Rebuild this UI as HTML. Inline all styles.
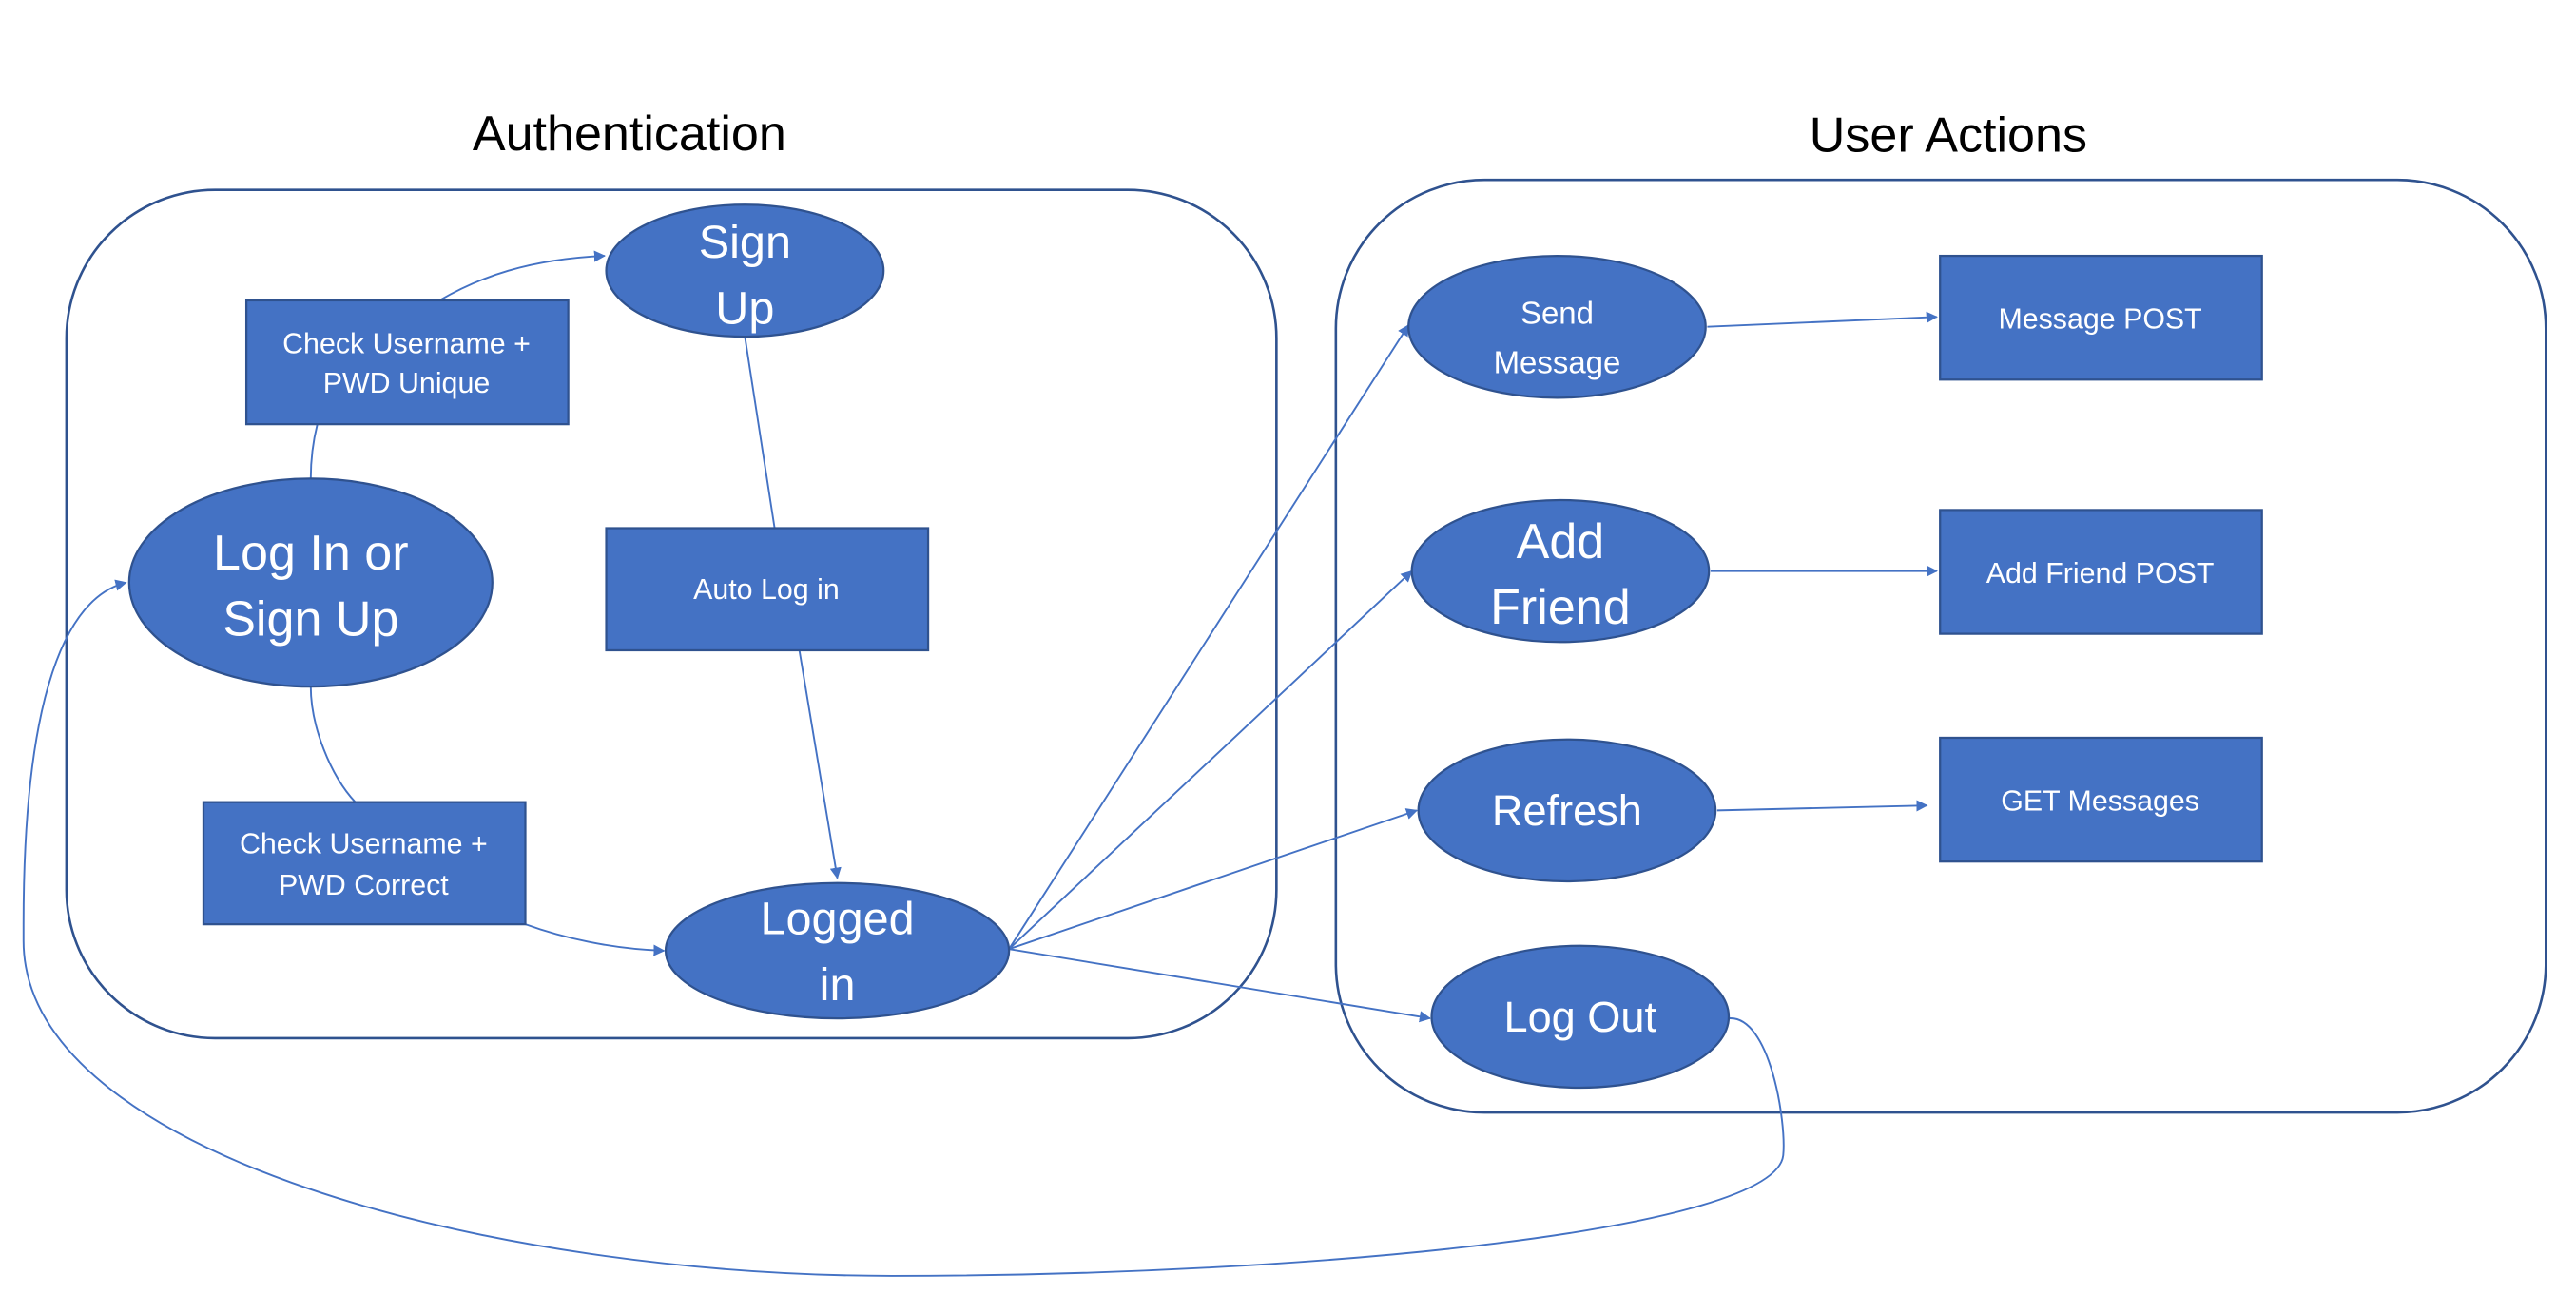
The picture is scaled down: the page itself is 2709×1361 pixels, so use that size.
<!DOCTYPE html>
<html><head><meta charset="utf-8"><style>
html,body{margin:0;padding:0;background:#fff;}
svg{display:block;}
text{font-family:"Liberation Sans",sans-serif;fill:#fff;text-anchor:middle;}
</style></head><body>
<svg width="2709" height="1361" viewBox="0 0 1560 784" xmlns="http://www.w3.org/2000/svg">
<defs>
<marker id="a" viewBox="0 0 10 10" refX="9" refY="5" markerWidth="7" markerHeight="7" orient="auto" markerUnits="userSpaceOnUse">
<path d="M0,0 L10,5 L0,10 z" fill="#4472C4"/></marker>
</defs>
<text x="381" y="91" style="fill:#000;font-size:30px">Authentication</text>
<text x="1180" y="92" style="fill:#000;font-size:30px">User Actions</text>
<rect x="40" y="115" width="733" height="514" rx="90" fill="none" stroke="#2F528F" stroke-width="1.5"/>
<rect x="809" y="109" width="733" height="565" rx="90" fill="none" stroke="#2F528F" stroke-width="1.5"/>
<g fill="none" stroke="#4472C4" stroke-width="1.1">
<path d="M188,290 C188,275 190,265 192,257"/>
<path d="M266,182 C290,168 320,157 366,155" marker-end="url(#a)"/>
<path d="M188,416 C188,440 200,470 215,486"/>
<path d="M318,560 C340,568 370,575 402,576" marker-end="url(#a)"/>
<path d="M451,204 L469,320"/>
<path d="M484,394 L507,532" marker-end="url(#a)"/>
<path d="M611,575 L853,197" marker-end="url(#a)"/>
<path d="M611,575 L855,346" marker-end="url(#a)"/>
<path d="M611,575 L858,491" marker-end="url(#a)"/>
<path d="M611,575 L866,617" marker-end="url(#a)"/>
<path d="M1034,198 L1173,192" marker-end="url(#a)"/>
<path d="M1036,346 L1173,346" marker-end="url(#a)"/>
<path d="M1040,491 L1167,488" marker-end="url(#a)"/>
<path d="M1047,617 C1072,615 1082,680 1080,700 C1075,745 800,773 540,773 C300,773 14,700 14,570 L14,560 C14,420 40,362 76,353" marker-end="url(#a)"/>
</g>
<g fill="#4472C4" stroke="#2F528F" stroke-width="1.3">
<ellipse cx="451" cy="164" rx="84" ry="40"/>
<ellipse cx="188" cy="353" rx="110" ry="63"/>
<ellipse cx="507" cy="576" rx="104" ry="41"/>
<ellipse cx="943" cy="198" rx="90" ry="43"/>
<ellipse cx="945" cy="346" rx="90" ry="43"/>
<ellipse cx="949" cy="491" rx="90" ry="43"/>
<ellipse cx="957" cy="616" rx="90" ry="43"/>
<rect x="149" y="182" width="195" height="75"/>
<rect x="367" y="320" width="195" height="74"/>
<rect x="123" y="486" width="195" height="74"/>
<rect x="1175" y="155" width="195" height="75"/>
<rect x="1175" y="309" width="195" height="75"/>
<rect x="1175" y="447" width="195" height="75"/>
</g>
<g>
<text x="451" y="156" style="font-size:28px">Sign</text>
<text x="451" y="196" style="font-size:28px">Up</text>
<text x="188" y="345" style="font-size:30px">Log In or</text>
<text x="188" y="385" style="font-size:30px">Sign Up</text>
<text x="507" y="566" style="font-size:28px">Logged</text>
<text x="507" y="606" style="font-size:28px">in</text>
<text x="943" y="196" style="font-size:19px">Send</text>
<text x="943" y="226" style="font-size:19px">Message</text>
<text x="945" y="338" style="font-size:30px">Add</text>
<text x="945" y="378" style="font-size:30px">Friend</text>
<text x="949" y="500" style="font-size:26px">Refresh</text>
<text x="957" y="625" style="font-size:26px">Log Out</text>
<text x="246" y="214" style="font-size:17.5px">Check Username +</text>
<text x="246" y="238" style="font-size:17.5px">PWD Unique</text>
<text x="464" y="363" style="font-size:17.5px">Auto Log in</text>
<text x="220" y="517" style="font-size:17.5px">Check Username +</text>
<text x="220" y="542" style="font-size:17.5px">PWD Correct</text>
<text x="1272" y="199" style="font-size:17.5px">Message POST</text>
<text x="1272" y="353" style="font-size:17.5px">Add Friend POST</text>
<text x="1272" y="491" style="font-size:17.5px">GET Messages</text>
</g>
</svg>
</body></html>
